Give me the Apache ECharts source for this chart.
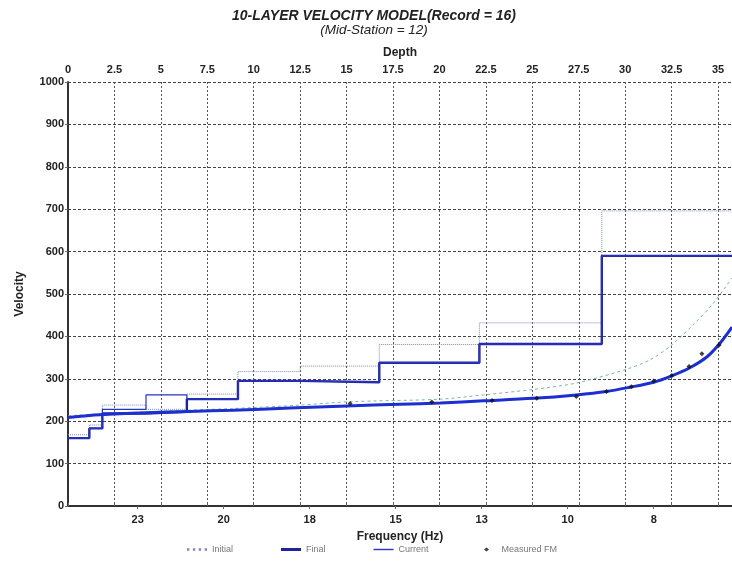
<!DOCTYPE html>
<html>
<head>
<meta charset="utf-8">
<script src="https://cdn.jsdelivr.net/npm/echarts@6/dist/echarts.min.js"></script>
<style>
  html, body { margin: 0; padding: 0; background: #fff; }
  #chart { width: 732px; height: 565px; }
</style>
</head>
<body>
<div id="chart"></div>
<script>
// layer model: depth of each layer top, and velocity per layer
const layerTop = [0, 1.15, 1.85, 4.2, 6.4, 9.15, 12.5, 16.76, 22.15, 28.74];
const initialVel = [168, 191, 238, 228, 264, 317, 330, 381, 432, 696];
const finalVel = [160, 183, 218, 222, 252, 295, 292, 338, 382, 590];
const currentVel = [160, 183, 228, 262, 252, 295, 292, 338, 382, 590];

// frequency axis ticks (evenly spaced slots 0..6)
const freqSlots = [0, 1, 2, 3, 4, 5, 6];
const freqLabels = ['23', '20', '18', '15', '13', '10', '8'];

// dispersion curves, x in frequency slots
const finalCurveX = [-0.81, -0.44, 0.1, 0.6, 1.11, 1.77, 2.43, 3.05, 3.52, 4.02, 4.6, 5.1, 5.45, 5.72, 6.0, 6.21, 6.42, 6.62, 6.77, 6.91];
const finalCurveV = [209, 215, 220, 223, 226, 231, 236, 240, 243, 248, 254, 262, 270, 280, 292, 307, 326, 352, 384, 422];
const initCurveX = [-0.81, 0.1, 1.11, 1.89, 2.47, 3.52, 4.02, 4.6, 5.1, 5.69, 5.96, 6.21, 6.46, 6.68, 6.91];
const initCurveV = [213, 222, 230, 238, 246, 252, 262, 275, 290, 323, 345, 380, 428, 475, 538];
const measuredX = [2.47, 3.42, 4.12, 4.64, 5.1, 5.45, 5.74, 6.0, 6.21, 6.41, 6.56, 6.76];
const measuredV = [242, 245, 249, 254, 258, 270, 281, 295, 308, 329, 359, 380];

const depthMax = 35.75;

function steps(vel) {
  const pts = layerTop.map((d, i) => [d, vel[i]]);
  pts.push([depthMax + 5, vel[vel.length - 1]]);
  return pts;
}
function pairs(xs, ys) {
  return xs.map((x, i) => [x, ys[i]]);
}

const font = 'Liberation Sans, Arial, sans-serif';
const chart = echarts.init(document.getElementById('chart'));
chart.setOption({
  animation: false,
  backgroundColor: '#fff',
  title: {
    text: '10-LAYER VELOCITY MODEL(Record = 16)',
    subtext: '(Mid-Station = 12)',
    left: 369, top: 4, textAlign: 'center', itemGap: 0,
    textStyle: { fontFamily: font, fontSize: 14, fontWeight: 'bold', fontStyle: 'italic', color: '#222' },
    subtextStyle: { fontFamily: font, fontSize: 13.5, fontStyle: 'italic', color: '#222' }
  },
  legend: {
    data: [
      { name: 'Initial', icon: 'path://M0,0h2v2h-2z M5,0h2v2h-2z M10,0h2v2h-2z M15,0h2v2h-2z' },
      { name: 'Final', icon: 'path://M0,0h20v3h-20z' },
      { name: 'Current', icon: 'path://M0,0h20v1.4h-20z' },
      { name: 'Measured FM', icon: 'path://M0,0 M20,7 M10,1.5 L12.5,3.5 L10,5.5 L7.5,3.5 Z' }
    ],
    left: 182, top: 540, itemGap: 48, itemWidth: 20, itemHeight: 7,
    textStyle: { fontFamily: font, fontSize: 9, color: '#777' }
  },
  grid: { left: 68, right: 0, top: 82, bottom: 59 },
  xAxis: [
    {
      type: 'value', position: 'top', min: 0, max: depthMax, interval: 2.5,
      name: 'Depth', nameLocation: 'middle', nameGap: 23, nameMoveOverlap: false,
      nameTextStyle: { fontFamily: font, fontSize: 12, fontWeight: 'bold', color: '#222' },
      axisLine: { lineStyle: { color: '#333', width: 2 } },
      axisTick: { show: true, length: 3, lineStyle: { color: '#666' } },
      axisLabel: { showMaxLabel: false, margin: 7, fontFamily: font, fontSize: 11, fontWeight: 'bold', color: '#222' },
      splitLine: { show: true, lineStyle: { color: '#555', type: [2, 2], width: 1 } }
    },
    {
      type: 'value', position: 'bottom', min: -0.81, max: 6.91,
      name: 'Frequency (Hz)', nameLocation: 'middle', nameGap: 25, nameMoveOverlap: false,
      nameTextStyle: { fontFamily: font, fontSize: 12, fontWeight: 'bold', color: '#222' },
      axisLine: { lineStyle: { color: '#333', width: 2 } },
      axisTick: { show: true, length: 3, customValues: freqSlots, lineStyle: { color: '#666' } },
      axisLabel: {
        customValues: freqSlots, margin: 8,
        formatter: v => freqLabels[freqSlots.indexOf(Math.round(v))],
        fontFamily: font, fontSize: 11, fontWeight: 'bold', color: '#222'
      },
      splitLine: { show: false }
    }
  ],
  yAxis: {
    type: 'value', min: 0, max: 1000, interval: 100,
    name: 'Velocity', nameLocation: 'middle', nameGap: 42, nameMoveOverlap: false,
    nameTextStyle: { fontFamily: font, fontSize: 12, fontWeight: 'bold', color: '#222' },
    axisLine: { show: true, lineStyle: { color: '#333', width: 2 } },
    axisTick: { show: true, length: 3, lineStyle: { color: '#666' } },
    axisLabel: { margin: 4, formatter: v => String(v), fontFamily: font, fontSize: 11, fontWeight: 'bold', color: '#222' },
    splitLine: { lineStyle: { color: '#444', type: [3, 2], width: 1 } }
  },
  series: [
    {
      name: 'Initial', type: 'line', xAxisIndex: 0, step: 'end', symbol: 'none',
      data: steps(initialVel),
      lineStyle: { color: '#7f88b4', width: 1, type: 'dotted' }, itemStyle: { color: '#7f88b4' }
    },
    {
      name: 'Initial', type: 'line', xAxisIndex: 1, smooth: 0.3, symbol: 'none',
      data: pairs(initCurveX, initCurveV),
      lineStyle: { color: '#7fb59c', width: 1, type: [3, 3] }, itemStyle: { color: '#7fb59c' }
    },
    {
      name: 'Final', type: 'line', xAxisIndex: 0, step: 'end', symbol: 'none',
      data: steps(finalVel),
      lineStyle: { color: '#1f239e', width: 2.4 }, itemStyle: { color: '#1f239e' }
    },
    {
      name: 'Current', type: 'line', xAxisIndex: 0, step: 'end', symbol: 'none',
      data: steps(currentVel),
      lineStyle: { color: '#2a33c4', width: 1.2 }, itemStyle: { color: '#2a33c4' }
    },
    {
      name: 'Final', type: 'line', xAxisIndex: 1, smooth: 0.3, symbol: 'none',
      data: pairs(finalCurveX, finalCurveV),
      lineStyle: { color: '#1c2fd0', width: 3 }, itemStyle: { color: '#1c2fd0' }
    },
    {
      name: 'Measured FM', type: 'scatter', xAxisIndex: 1, symbol: 'diamond', symbolSize: 5,
      data: pairs(measuredX, measuredV),
      itemStyle: { color: '#111' }, z: 5
    }
  ]
});
</script>
</body>
</html>
